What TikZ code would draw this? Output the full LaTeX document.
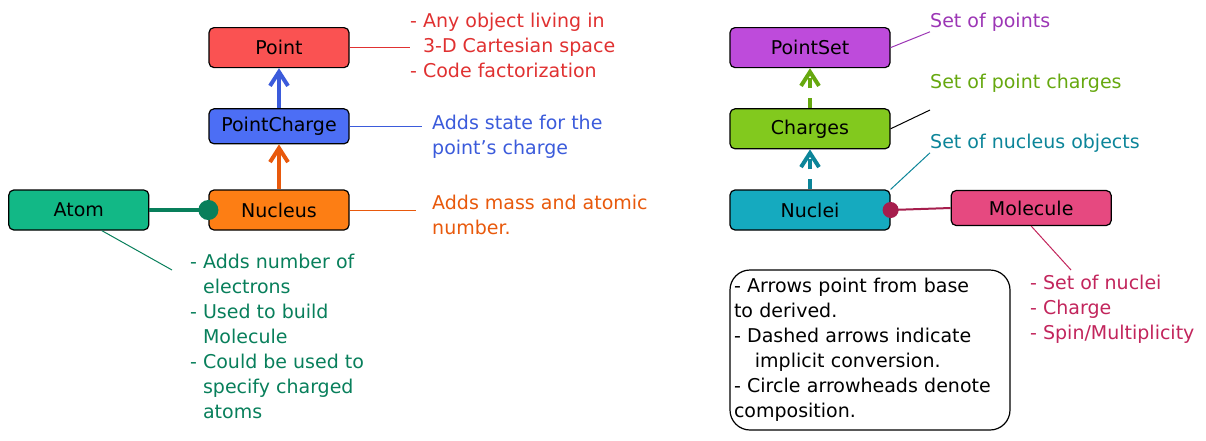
\documentclass[tikz,border=0pt]{standalone}
\usepackage{fontspec}
\setmainfont{DejaVu Sans}
\usepackage{xcolor}
\usepackage{tikz}
\usetikzlibrary{arrows.meta,positioning}
\definecolor{PointFill}{HTML}{FA5252}
\definecolor{PointInk}{HTML}{E03131}
\definecolor{ChargeFill}{HTML}{4C6EF5}
\definecolor{ChargeInk}{HTML}{3B5BDB}
\definecolor{NucFill}{HTML}{FD7E14}
\definecolor{NucInk}{HTML}{E8590C}
\definecolor{AtomFill}{HTML}{12B886}
\definecolor{AtomInk}{HTML}{087F5B}
\definecolor{SetFill}{HTML}{BE4BDB}
\definecolor{SetInk}{HTML}{9C36B5}
\definecolor{LimeFill}{HTML}{82C91E}
\definecolor{LimeInk}{HTML}{66A80F}
\definecolor{CyanFill}{HTML}{15AABF}
\definecolor{CyanInk}{HTML}{0C8599}
\definecolor{MolFill}{HTML}{E64980}
\definecolor{MolInk}{HTML}{C2255C}
\definecolor{MolDark}{HTML}{A61E4D}
\newcommand{\noteindent}{\hphantom{-\ }}

\begin{document}
\begin{tikzpicture}[
  x=1pt,y=-1pt,
  font=\fontsize{19}{25}\selectfont,
  box/.style={draw=black,line width=1.2pt,rounded corners=5pt,minimum width=140pt,minimum height=40pt,inner sep=2pt},
  wbox/.style={box,minimum width=160pt},
  note/.style={anchor=north west,align=left,inner sep=0pt},
  lead/.style={line width=1pt},
  inh/.style={-{Straight Barb[length=14pt,width=18pt]},line width=4pt},
  conv/.style={inh,dash pattern=on 10pt off 10pt},
  comp/.style={-{Circle[length=#1]},shorten >=-#1/2}
]
\useasboundingbox (0,0) rectangle (1206,440);
% left column
\node[box,fill=NucFill] (nucleus) at (279,210) {Nucleus};
\node[box,fill=ChargeFill,minimum height=35pt,above=45pt of nucleus] (pcharge) {PointCharge};
\node[box,fill=PointFill,above=40pt of pcharge] (point) {Point};
\node[box,fill=AtomFill,left=59pt of nucleus] (atom) {Atom};
% right column
\node[wbox,fill=CyanFill] (nuclei) at (810,210) {Nuclei};
\node[wbox,fill=LimeFill,above=40pt of nuclei] (charges) {Charges};
\node[wbox,fill=SetFill,above=40pt of charges] (pointset) {PointSet};
\node[wbox,fill=MolFill,minimum height=35pt,right=60pt of nuclei,yshift=2pt] (molecule) {Molecule};
% notes
\node[note,text=PointInk] (pointnote) at (410,13) {- Any object living in\\\noteindent 3-D Cartesian space\\- Code factorization};
\node[note,text=ChargeInk] (pcnote) at (432,115) {Adds state for the\\point's charge};
\node[note,text=NucInk] (nucnote) at (432,195) {Adds mass and atomic\\number.};
\node[note,text=AtomInk] (atomnote) at (190,254) {- Adds number of\\\noteindent electrons\\- Used to build\\\noteindent Molecule\\- Could be used to\\\noteindent specify charged\\\noteindent atoms};
\node[note,text=SetInk] (setnote) at (930,13) {Set of points};
\node[note,text=LimeInk] (chargenote) at (930,74) {Set of point charges};
\node[note,text=CyanInk] (nucleinote) at (930,134) {Set of nucleus objects};
\node[note,text=MolInk] (molnote) at (1030,275) {- Set of nuclei\\- Charge\\- Spin/Multiplicity};
\node[draw,line width=1.2pt,rounded corners=20pt,minimum width=280pt,minimum height=160pt,text width=272pt,inner sep=4pt,align=left] (legend) at (870,350)
  {- Arrows point from base\\to derived.\\- Dashed arrows indicate\\\hspace*{1.1em}implicit conversion.\\- Circle arrowheads denote\\composition.};
\coordinate (atomtip) at (172,270);
\coordinate (chargetip) at (930,110);
\coordinate (moltip) at (1071,270);
% connectors
\draw[inh,draw=NucInk] (nucleus.north) -- (pcharge.south);
\draw[inh,draw=ChargeInk] (pcharge.north) -- (point.south);
\draw[comp=20pt,line width=4pt,draw=AtomInk,fill=AtomInk] (atom.east) -- (nucleus.west);
\draw[conv,draw=CyanInk] (nuclei.north) -- (charges.south);
\draw[conv,draw=LimeInk] (charges.north) -- (pointset.south);
\draw[comp=16pt,line width=2pt,draw=MolDark,fill=MolDark] (molecule.west) -- (nuclei.east);
% leader lines
\draw[lead,draw=PointInk] (point.east) -- (pointnote.west |- point.east);
\draw[lead,draw=ChargeInk,shorten >=10pt] (pcharge.east) -- (pcnote.west |- pcharge.east);
\draw[lead,draw=NucInk,shorten >=16pt] (nucleus.east) -- (nucnote.west |- nucleus.east);
\draw[lead,draw=AtomInk] ([xshift=23pt]atom.south) -- (atomtip);
\draw[lead,draw=SetInk] (pointset.east) -- (setnote.south west);
\draw[lead,draw=black] (charges.east) -- (chargetip);
\draw[lead,draw=CyanInk] (nuclei.north east) -- (nucleinote.south west);
\draw[lead,draw=MolInk] (molecule.south) -- (moltip);
\end{tikzpicture}
\end{document}
